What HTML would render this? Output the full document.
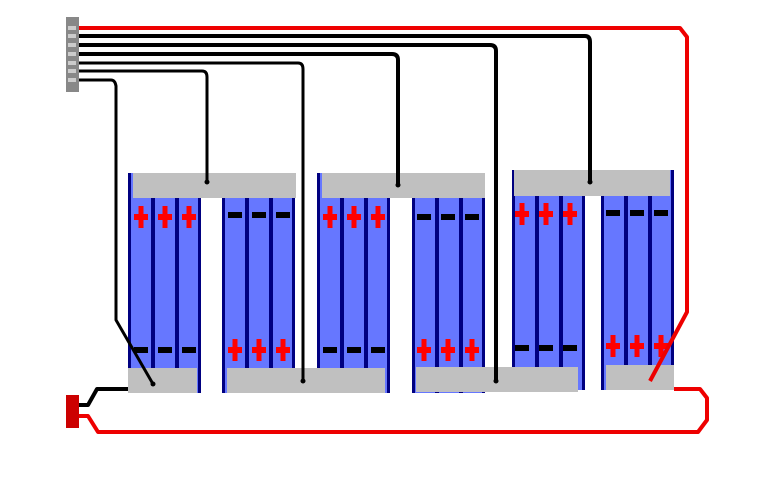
<!DOCTYPE html>
<html><head><style>html,body{margin:0;padding:0;background:#fff;}svg{display:block}</style></head>
<body>
<svg width="769" height="494" viewBox="0 0 769 494" xmlns="http://www.w3.org/2000/svg">
<defs>
<g id="plus"><rect x="-2.5" y="-11" width="5" height="22" fill="#f00"/><rect x="-7" y="-3" width="14" height="6" fill="#f00"/></g>
<g id="minus"><rect x="-7" y="-3" width="14" height="6" fill="#000"/></g>
<g id="pack">
<rect x="0" y="0" width="72" height="220" fill="#6677ff"/>
<rect x="0" y="0" width="3" height="220" fill="#000080"/>
<rect x="23" y="0" width="4" height="220" fill="#000080"/>
<rect x="47" y="0" width="4" height="220" fill="#000080"/>
<rect x="70" y="0" width="3" height="220" fill="#000080"/>
</g>
</defs>
<!-- connector -->
<rect x="66" y="17" width="13" height="75" fill="#888"/>
<g fill="#ccc"><rect x="68" y="26" width="8" height="4"/><rect x="68" y="34" width="8" height="4"/><rect x="68" y="43" width="8" height="4"/><rect x="68" y="52" width="8" height="4"/><rect x="68" y="61" width="8" height="4"/><rect x="68" y="69" width="8" height="4"/><rect x="68" y="78" width="8" height="4"/></g>

<!-- packs -->
<use href="#pack" x="128" y="173"/><use href="#pack" x="222" y="173"/>
<use href="#pack" x="317" y="173"/><use href="#pack" x="412" y="173"/>
<use href="#pack" x="512" y="170"/><use href="#pack" x="601" y="170"/>
<!-- signs -->
<use href="#plus" x="141" y="217"/><use href="#plus" x="165" y="217"/><use href="#plus" x="189" y="217"/>
<use href="#minus" x="235" y="215"/><use href="#minus" x="259" y="215"/><use href="#minus" x="283" y="215"/>
<use href="#minus" x="141" y="350"/><use href="#minus" x="165" y="350"/><use href="#minus" x="189" y="350"/>
<use href="#plus" x="235" y="350"/><use href="#plus" x="259" y="350"/><use href="#plus" x="283" y="350"/>
<use href="#plus" x="330" y="217"/><use href="#plus" x="354" y="217"/><use href="#plus" x="378" y="217"/>
<use href="#minus" x="424" y="217"/><use href="#minus" x="448" y="217"/><use href="#minus" x="472" y="217"/>
<use href="#minus" x="330" y="350"/><use href="#minus" x="354" y="350"/><use href="#minus" x="378" y="350"/>
<use href="#plus" x="424" y="350"/><use href="#plus" x="448" y="350"/><use href="#plus" x="472" y="350"/>
<use href="#plus" x="522" y="214"/><use href="#plus" x="546" y="214"/><use href="#plus" x="570" y="214"/>
<use href="#minus" x="613" y="213"/><use href="#minus" x="637" y="213"/><use href="#minus" x="661" y="213"/>
<use href="#minus" x="522" y="348"/><use href="#minus" x="546" y="348"/><use href="#minus" x="570" y="348"/>
<use href="#plus" x="613" y="346"/><use href="#plus" x="637" y="346"/><use href="#plus" x="661" y="346"/>
<!-- bars -->
<g fill="#c0c0c0">
<rect x="133" y="173" width="163" height="25"/>
<rect x="322" y="173" width="163" height="25"/>
<rect x="514" y="170" width="156" height="26"/>
<rect x="128" y="368" width="69" height="25"/>
<rect x="227" y="368" width="158" height="25"/>
<rect x="416" y="367" width="162" height="25"/>
<rect x="606" y="365" width="68" height="25"/>
</g>
<!-- black wires -->
<g fill="none" stroke="#000" stroke-linejoin="round">
<path d="M79 36 H585 Q590 36 590 42 V182" stroke-width="4"/>
<path d="M79 45 H490 Q496 45 496 51 V381" stroke-width="4"/>
<path d="M79 54 H392 Q398 54 398 60 V185" stroke-width="4"/>
<path d="M79 63 H298 Q303 63 303 69 V381" stroke-width="3"/>
<path d="M79 71 H202 Q207 71 207 77 V182" stroke-width="3"/>
<path d="M79 80 H111 Q115 80 116 86 V320 L153 384" stroke-width="3"/>
<path d="M78 405 H88 L97 389 H128" stroke-width="4"/>
</g>
<g fill="#000"><circle cx="590" cy="182" r="2.5"/><circle cx="496" cy="381" r="2.5"/><circle cx="398" cy="185" r="2.5"/><circle cx="303" cy="381" r="2.5"/><circle cx="207" cy="182" r="2.5"/><circle cx="153" cy="384" r="2.5"/></g>
<!-- red wires -->
<g fill="none" stroke="#e00" stroke-width="4" stroke-linejoin="round">
<path d="M79 28 H680 L687 37 V312 L650 381"/>
<path d="M78 416 H88 L98 432 H698 L707 420 V398 L700 389 H674"/>
</g>
<rect x="66" y="395" width="13" height="33" fill="#c00"/>
</svg>
</body></html>
